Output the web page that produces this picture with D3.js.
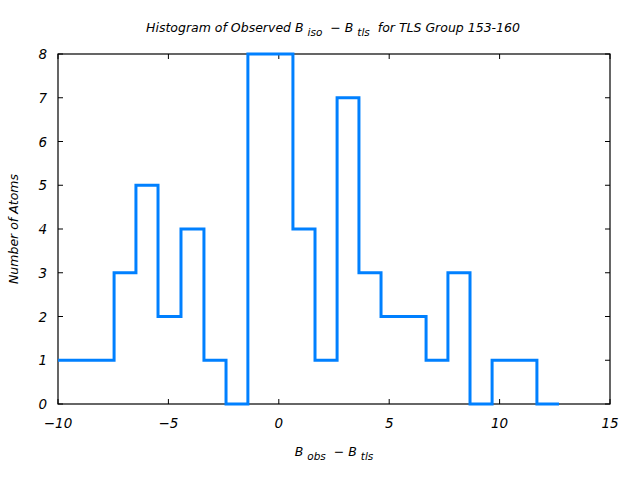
<!DOCTYPE html>
<html><head><meta charset="utf-8">
<script src="https://cdn.jsdelivr.net/npm/d3@7"></script>
<style>body{margin:0;background:#fff}text{font-family:"DejaVu Sans",sans-serif;font-style:italic;white-space:pre}</style>
</head><body><svg id="c" width="640" height="480"></svg>
<script>
// Histogram bin edges (B_obs - B_tls) and counts per bin
const binEdges = [-10.46,-9.46,-8.46,-7.46,-6.47,-5.47,-4.43,-3.39,-2.39,-1.40,-0.40,0.64,1.64,2.64,3.63,4.63,5.65,6.67,7.66,8.66,9.66,10.67,11.69,12.69];
const counts   = [1,1,1,3,5,2,4,1,0,8,8,4,1,7,3,2,2,1,3,0,1,1,0];
const xTicks = [-10,-5,0,5,10,15];
const yTicks = [0,1,2,3,4,5,6,7,8];

const svg = d3.select("#c");
const L=58,R=610,T=54,B=404;
const x = d3.scaleLinear().domain([-10,15]).range([L,R]);
const y = d3.scaleLinear().domain([0,8]).range([B,T]);

svg.append("defs").append("clipPath").attr("id","clip")
  .append("rect").attr("x",L).attr("y",T-3).attr("width",R-L).attr("height",B-T+6);

const pts=[];
counts.forEach((c,i)=>{pts.push([binEdges[i],c]);pts.push([binEdges[i+1],c]);});
const line=d3.line().x(d=>x(d[0])).y(d=>y(d[1]));

svg.append("rect").attr("x",L).attr("y",T).attr("width",R-L).attr("height",B-T)
  .attr("fill","none").attr("stroke","#000").attr("stroke-width",1.2);

const fmt=d=>d<0?"\u2212"+Math.abs(d):String(d);
const gx=svg.append("g");
xTicks.forEach(t=>{
  gx.append("line").attr("x1",x(t)).attr("x2",x(t)).attr("y1",B).attr("y2",B-5).attr("stroke","#000");
  gx.append("line").attr("x1",x(t)).attr("x2",x(t)).attr("y1",T).attr("y2",T+5).attr("stroke","#000");
  gx.append("text").attr("x",x(t)).attr("y",B+24).attr("text-anchor","middle").attr("font-size",13.5).text(fmt(t));
});
const gy=svg.append("g");
yTicks.forEach(t=>{
  gy.append("line").attr("x1",L).attr("x2",L+5).attr("y1",y(t)).attr("y2",y(t)).attr("stroke","#000");
  gy.append("line").attr("x1",R).attr("x2",R-5).attr("y1",y(t)).attr("y2",y(t)).attr("stroke","#000");
  gy.append("text").attr("x",L-11).attr("y",y(t)+5).attr("text-anchor","end").attr("font-size",13.5).text(fmt(t));
});

svg.append("path").attr("d",line(pts)).attr("clip-path","url(#clip)")
  .attr("fill","none").attr("stroke","#0080ff").attr("stroke-width",3);

const tt=svg.append("text").attr("x",333).attr("y",32).attr("text-anchor","middle").attr("font-size",12.5);
tt.append("tspan").text("Histogram of Observed B ");
tt.append("tspan").attr("dy",4).attr("font-size",10.5).text("iso");
tt.append("tspan").attr("dy",-4).text("  \u2212 B ");
tt.append("tspan").attr("dy",4).attr("font-size",10.5).text("tls");
tt.append("tspan").attr("dy",-4).text("  for TLS Group 153-160");

const xl=svg.append("text").attr("x",334).attr("y",456).attr("text-anchor","middle").attr("font-size",12.5);
xl.append("tspan").text("B ");
xl.append("tspan").attr("dy",4).attr("font-size",10.5).text("obs");
xl.append("tspan").attr("dy",-4).text("  \u2212 B ");
xl.append("tspan").attr("dy",4).attr("font-size",10.5).text("tls");

svg.append("text").attr("transform","translate(18,229) rotate(-90)").attr("text-anchor","middle")
  .attr("font-size",12.5).text("Number of Atoms");
</script></body></html>
